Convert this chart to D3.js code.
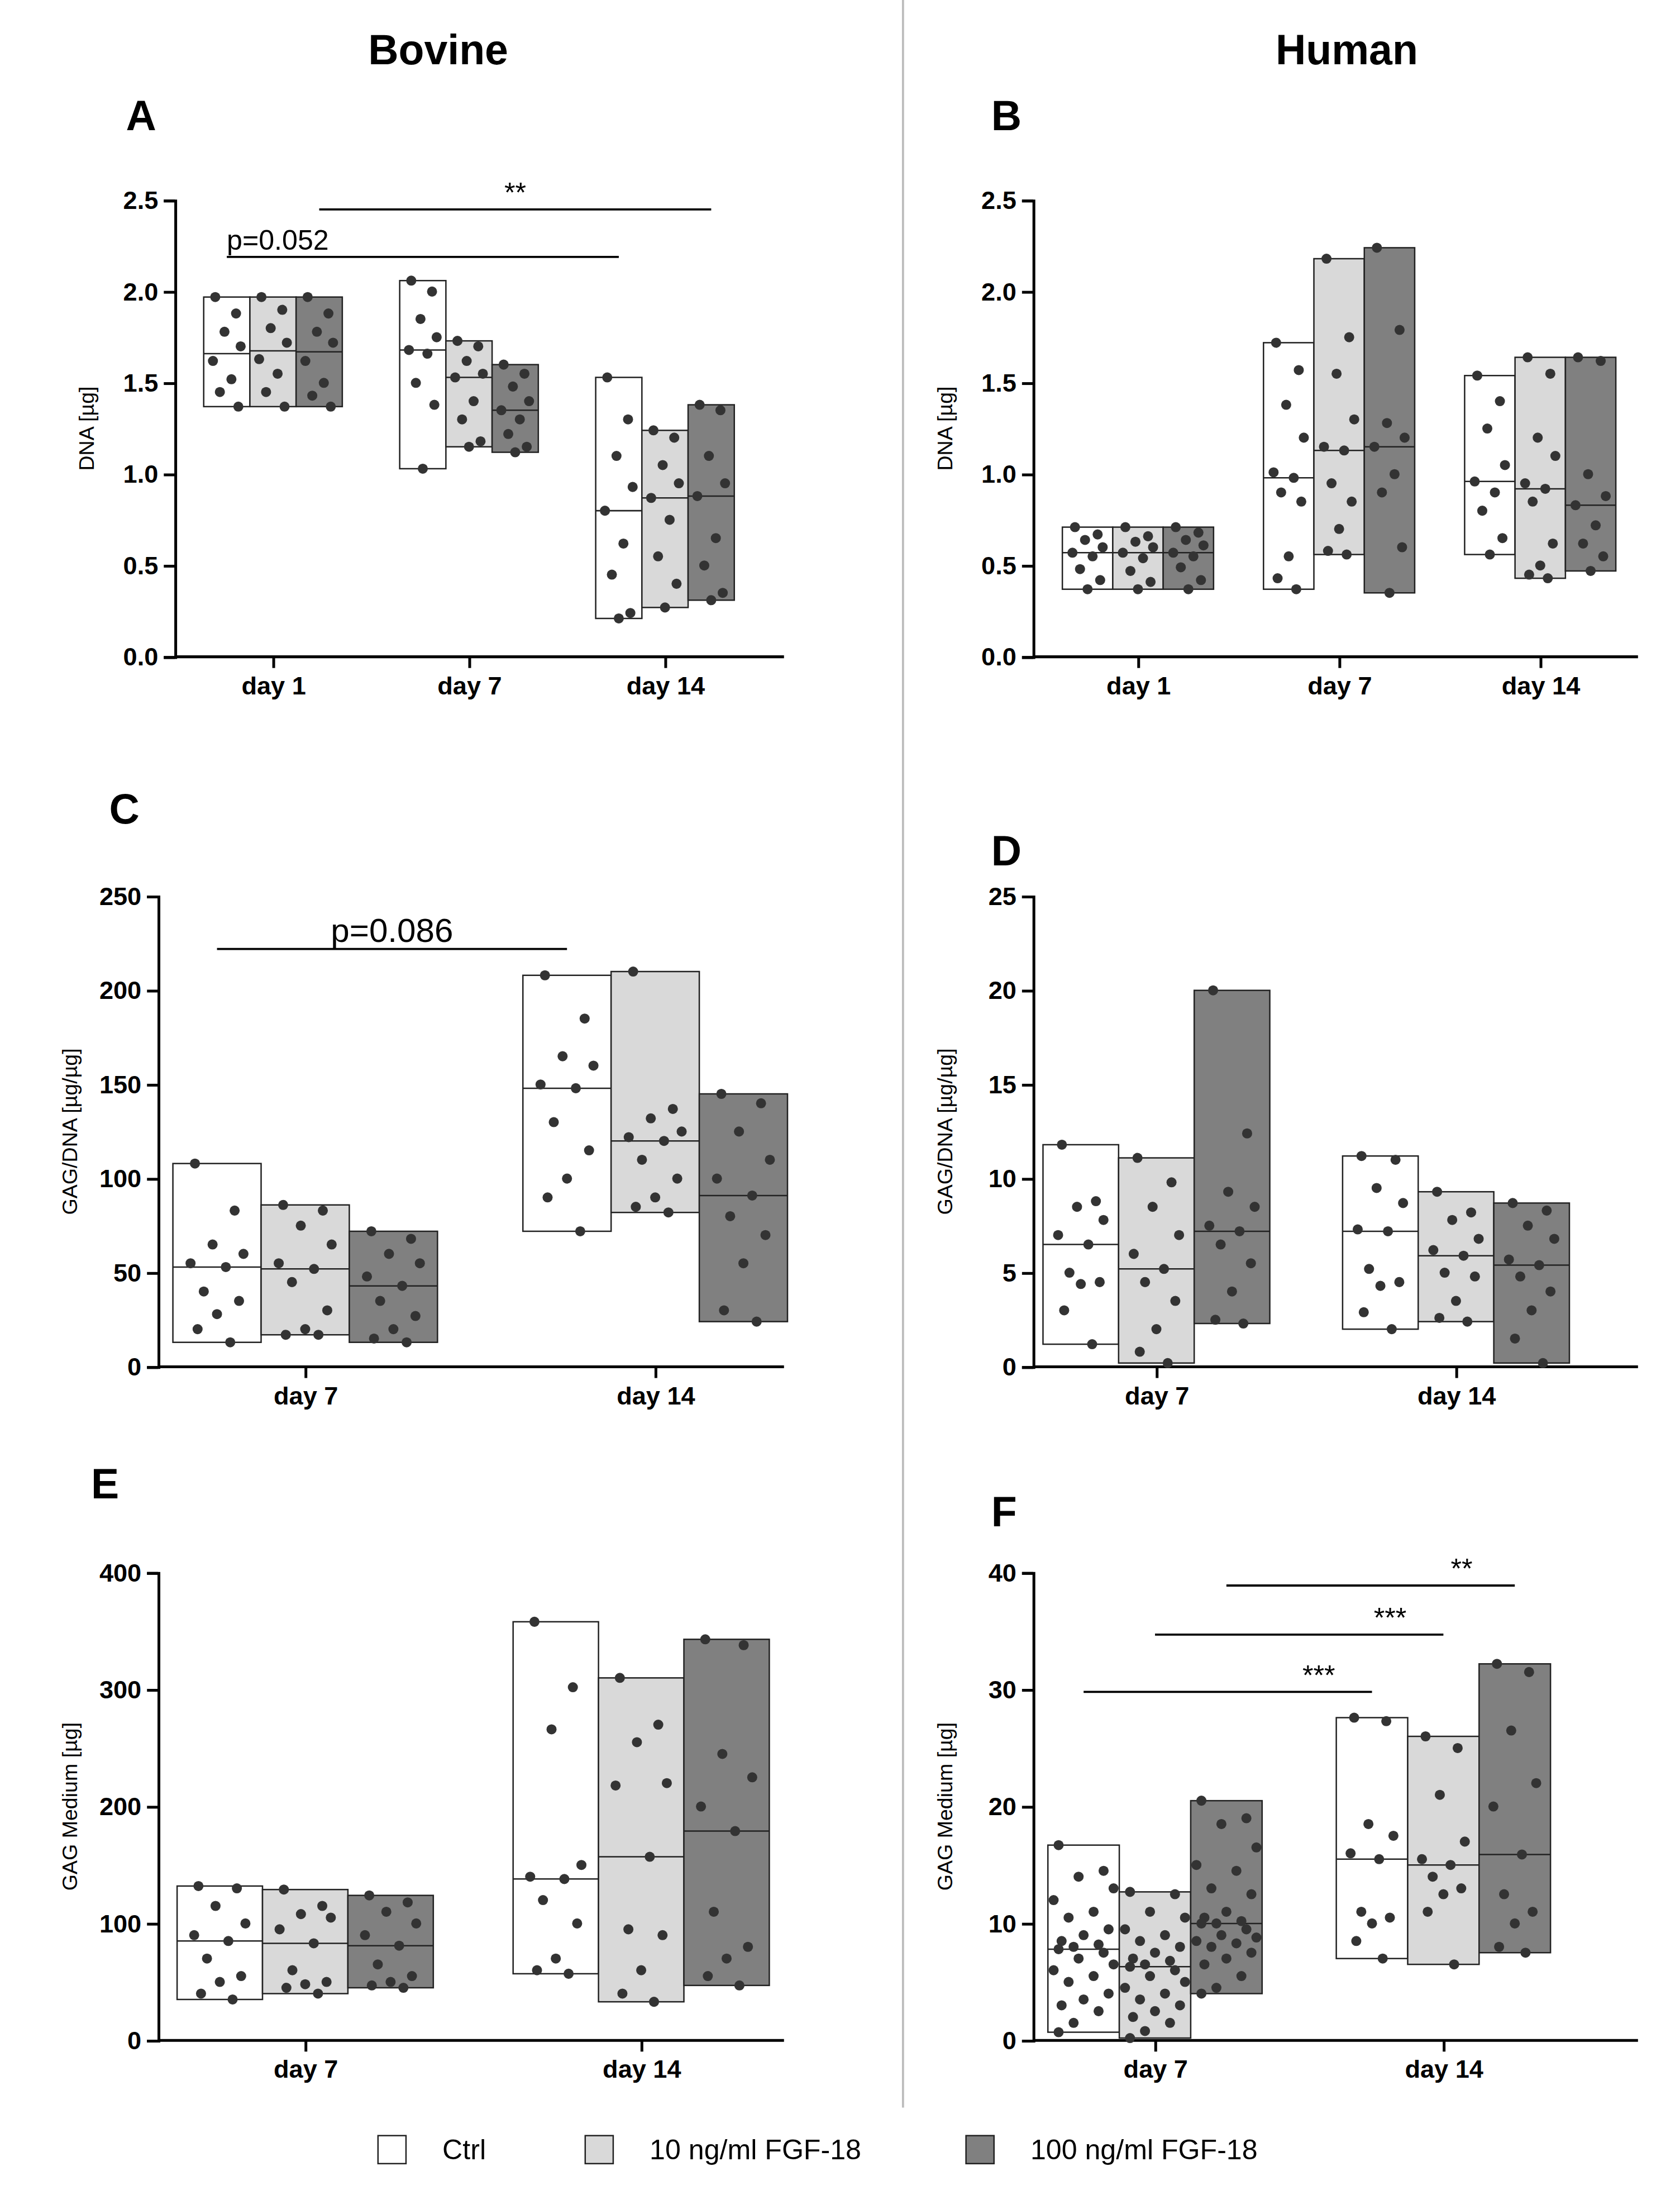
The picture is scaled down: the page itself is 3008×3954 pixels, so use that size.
<!DOCTYPE html>
<html><head><meta charset="utf-8">
<script src="https://cdn.jsdelivr.net/npm/d3@7"></script>
<style>body{margin:0;background:#fff}text{font-family:Arial,"Liberation Sans",sans-serif}</style>
</head><body>
<svg id="chart" width="3008" height="3954" viewBox="0 0 1200 1577.4"></svg>
<script>
// groups and colours
var groups = ["Ctrl", "10 ng/ml FGF-18", "100 ng/ml FGF-18"];
var fills = ["#ffffff", "#d9d9d9", "#808080"];

// values, one array per panel: [category][group][points]
var dnaBovine = [
  [[1.97,1.88,1.78,1.70,1.62,1.52,1.45,1.37],[1.97,1.90,1.80,1.72,1.63,1.55,1.45,1.37],[1.97,1.88,1.78,1.72,1.62,1.50,1.43,1.37]],
  [[2.06,2.00,1.85,1.75,1.68,1.66,1.50,1.38,1.03],[1.73,1.70,1.62,1.55,1.53,1.40,1.30,1.18,1.15],[1.60,1.55,1.48,1.40,1.35,1.30,1.22,1.15,1.12]],
  [[1.53,1.30,1.10,0.93,0.80,0.62,0.45,0.24,0.21],[1.24,1.20,1.05,0.95,0.87,0.75,0.55,0.40,0.27],[1.38,1.35,1.10,0.95,0.88,0.65,0.50,0.35,0.31]]
];
var dnaHuman = [
  [[0.71,0.67,0.64,0.60,0.57,0.55,0.48,0.42,0.37],[0.71,0.66,0.63,0.60,0.57,0.54,0.47,0.41,0.37],[0.71,0.68,0.64,0.61,0.57,0.55,0.49,0.42,0.37]],
  [[1.72,1.57,1.38,1.20,1.01,0.98,0.90,0.85,0.55,0.43,0.37],[2.18,1.75,1.55,1.30,1.15,1.13,0.95,0.85,0.70,0.58,0.56],[2.24,1.79,1.28,1.20,1.15,1.00,0.90,0.60,0.35]],
  [[1.54,1.40,1.25,1.05,0.96,0.90,0.80,0.65,0.56],[1.64,1.55,1.20,1.10,0.95,0.92,0.85,0.62,0.50,0.45,0.43],[1.64,1.62,1.00,0.88,0.83,0.72,0.62,0.55,0.47]]
];
var gagDnaBovine = [
  [[108,83,65,60,55,53,40,35,28,20,13],[86,83,75,65,55,52,45,30,20,17,17],[72,68,60,55,48,43,35,27,20,15,13]],
  [[208,185,165,160,150,148,130,115,100,90,72],[210,137,132,125,122,120,110,100,90,85,82],[145,140,125,110,100,91,80,70,55,30,24]]
];
var gagDnaHuman = [
  [[11.8,8.8,8.5,7.8,7.0,6.5,5.0,4.5,4.4,3.0,1.2],[11.1,9.8,8.5,7.0,6.0,5.2,4.5,3.5,2.0,0.8,0.2],[20,12.4,9.3,8.5,7.5,7.2,6.5,5.5,4.0,2.5,2.3]],
  [[11.2,11.0,9.5,8.7,7.3,7.2,5.2,4.5,4.3,2.9,2.0],[9.3,8.2,7.8,6.8,6.2,5.9,5.0,4.8,3.5,2.6,2.4],[8.7,8.3,7.5,6.8,5.7,5.4,4.8,4.0,3.0,1.5,0.2]]
];
var gagMedBovine = [
  [[132,130,115,100,90,85,70,55,50,40,35],[129,115,108,105,95,83,60,50,48,45,40],[124,118,110,100,90,81,65,55,50,47,45]],
  [[358,302,266,150,140,138,120,100,70,60,57],[310,270,255,220,218,157,95,90,60,40,33],[343,338,245,225,200,179,110,80,70,55,47]]
];
var gagMedHuman = [
  [[16.7,14.5,14.0,13.0,12.0,11.0,10.5,9.5,9.0,8.5,8.2,8.0,7.8,7.5,7.0,6.5,6.0,5.5,5.0,4.0,3.5,3.0,2.5,1.5,0.7],
   [12.7,12.5,11.0,10.5,9.5,9.0,8.5,8.0,7.5,7.0,6.8,6.5,6.3,6.0,5.5,5.0,4.5,4.0,3.5,3.0,2.5,2.0,1.5,0.8,0.2],
   [20.5,19.0,18.5,16.5,15.0,14.5,13.0,12.5,11.0,10.5,10.2,10.0,10.0,9.5,9.0,8.8,8.5,8.3,8.0,7.5,7.0,6.5,5.5,4.5,4.0]],
  [[27.6,27.3,18.5,17.5,16.0,15.5,11.0,10.5,10.0,8.5,7.0],[26,25,21,17,15.5,15.0,14,13,12.5,11,6.5],[32.2,31.5,26.5,22,20,15.9,12.5,11,10,8,7.5]]
];
var days3 = ["day 1", "day 7", "day 14"];
var days2 = ["day 7", "day 14"];

// significance bars: [fromCat, fromGroup, toCat, toGroup, yValue, label]
var sigA = [[0,0,2,0,2.19,"p=0.052"],[0,2,2,2,2.45,"**"]];
var sigC = [[0,0,1,0,222,"p=0.086"]];
var sigF = [[0,0,1,0,29.8,"***"],[0,1,1,1,34.7,"***"],[0,2,1,2,38.9,"**"]];

var svg = d3.select("#chart");

var panels = [
  {letter:"A", lx:90, ly:93, data:dnaBovine, cats:days3, ax0:125, ax1:560, cx:[125,545], y:[469,143], max:2.5, step:0.5, fmt:".1f", bw:33, label:"DNA [µg]", sig:sigA},
  {letter:"B", lx:708, ly:93, data:dnaHuman, cats:days3, ax0:738, ax1:1170, cx:[741,1172], y:[469,143], max:2.5, step:0.5, fmt:".1f", bw:36, label:"DNA [µg]", sig:[]},
  {letter:"C", lx:78, ly:588, data:gagDnaBovine, cats:days2, ax0:113, ax1:560, cx:[93,593], y:[976,640], max:250, step:50, fmt:"d", bw:63, label:"GAG/DNA [µg/µg]", sig:sigC},
  {letter:"D", lx:708, ly:618, data:gagDnaHuman, cats:days2, ax0:738, ax1:1170, cx:[719,1147], y:[976,640], max:25, step:5, fmt:"d", bw:54, label:"GAG/DNA [µg/µg]", sig:[]},
  {letter:"E", lx:65, ly:1070, data:gagMedBovine, cats:days2, ax0:113, ax1:560, cx:[98,578], y:[1457,1123], max:400, step:100, fmt:"d", bw:61, label:"GAG Medium [µg]", sig:[]},
  {letter:"F", lx:708, ly:1090, data:gagMedHuman, cats:days2, ax0:738, ax1:1170, cx:[722,1134], y:[1457,1123], max:40, step:10, fmt:"d", bw:51, label:"GAG Medium [µg]", sig:sigF}
];

// headings and divider
svg.append("line").attr("x1",645).attr("x2",645).attr("y1",0).attr("y2",1505).attr("stroke","#bbb").attr("stroke-width",1.5);
svg.append("text").attr("x",313).attr("y",46).attr("text-anchor","middle").attr("font-size",30).attr("font-weight","bold").text("Bovine");
svg.append("text").attr("x",962).attr("y",46).attr("text-anchor","middle").attr("font-size",30).attr("font-weight","bold").text("Human");

var jit = [-0.25, 0.2, -0.05, 0.3, -0.3, 0.1, -0.15, 0.25, 0.0, -0.22, 0.15, -0.1];

panels.forEach(function(p) {
  var g = svg.append("g");
  g.append("text").attr("x",p.lx).attr("y",p.ly).attr("font-size",30).attr("font-weight","bold").text(p.letter);

  var x = d3.scalePoint().domain(p.cats).range(p.cx).padding(0.5);
  var y = d3.scaleLinear().domain([0,p.max]).range(p.y);
  var ticks = d3.range(0, p.max + p.step/2, p.step);

  var ya = g.append("g").attr("transform","translate(" + p.ax0 + ",0)")
    .call(d3.axisLeft(y).tickValues(ticks).tickFormat(d3.format(p.fmt)).tickSize(8).tickPadding(4));
  ya.selectAll("text").attr("font-size",18).attr("font-weight","bold").attr("fill","#000");
  ya.selectAll("line,path").attr("stroke","#000").attr("stroke-width",2);

  var xa = g.append("g").attr("transform","translate(0," + p.y[0] + ")")
    .call(d3.axisBottom(x).tickSize(8).tickPadding(6));
  xa.select(".domain").remove();
  xa.selectAll("line").attr("stroke","#000").attr("stroke-width",2);
  xa.selectAll("text").attr("font-size",18).attr("font-weight","bold").attr("fill","#000");
  g.append("line").attr("x1",p.ax0).attr("x2",p.ax1).attr("y1",p.y[0]).attr("y2",p.y[0]).attr("stroke","#000").attr("stroke-width",2);

  g.append("text").attr("transform","translate(" + (p.ax0 - 58) + "," + ((p.y[0]+p.y[1])/2) + ") rotate(-90)")
    .attr("text-anchor","middle").attr("font-size",15).text(p.label);

  function gx(ci, gi) { return x(p.cats[ci]) + (gi - 1) * p.bw; }

  p.data.forEach(function(cat, ci) {
    cat.forEach(function(vals, gi) {
      var cx = gx(ci, gi), ext = d3.extent(vals), med = d3.median(vals);
      g.append("rect").attr("x", cx - p.bw/2).attr("width", p.bw)
        .attr("y", y(ext[1])).attr("height", y(ext[0]) - y(ext[1]))
        .attr("fill", fills[gi]).attr("stroke","#222").attr("stroke-width",1);
      g.append("line").attr("x1", cx - p.bw/2).attr("x2", cx + p.bw/2)
        .attr("y1", y(med)).attr("y2", y(med)).attr("stroke","#222").attr("stroke-width",1);
      g.selectAll(null).data(vals).enter().append("circle")
        .attr("cx", function(d, i) { return cx + jit[i % jit.length] * p.bw * (vals.length > 15 ? 1.4 : 1); })
        .attr("cy", function(d) { return y(d); })
        .attr("r", 3.6).attr("fill","#333");
    });
  });

  p.sig.forEach(function(s) {
    var x1 = gx(s[0], s[1]), x2 = gx(s[2], s[3]), yy = y(s[4]);
    g.append("line").attr("x1",x1).attr("x2",x2).attr("y1",yy).attr("y2",yy).attr("stroke","#000").attr("stroke-width",1.5);
    var isP = s[5].charAt(0) === "p";
    var tx = (x1 + x2)/2, anchor = "middle";
    if (isP && p.letter === "A") { tx = x1; anchor = "start"; }
    if (p.letter === "F") tx = x2 - 38;
    g.append("text").attr("x", tx).attr("y", yy - 5).attr("text-anchor", anchor)
      .attr("font-size", isP ? (p.letter === "C" ? 24 : 20) : 20).text(s[5]);
  });
});

// legend
var lg = svg.append("g");
var lx = [270, 418, 690];
groups.forEach(function(d, i) {
  lg.append("rect").attr("x", lx[i]).attr("y", 1525).attr("width",20).attr("height",20)
    .attr("fill", fills[i]).attr("stroke","#222").attr("stroke-width",1);
  lg.append("text").attr("x", lx[i] + 46).attr("y", 1542).attr("font-size",20).text(d);
});
</script>
</body></html>
